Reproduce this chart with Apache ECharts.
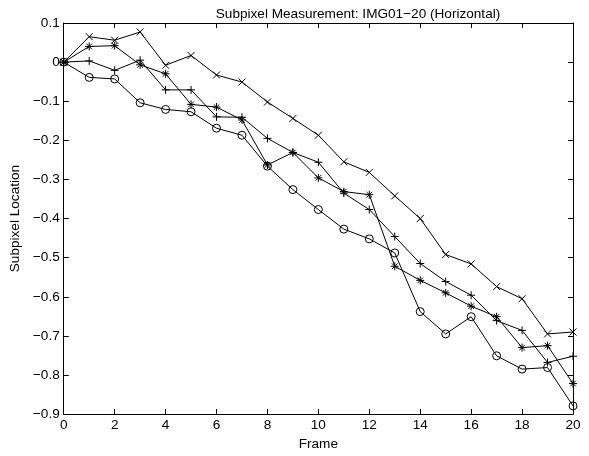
<!DOCTYPE html>
<html>
<head>
<meta charset="utf-8">
<script src="https://cdn.jsdelivr.net/npm/echarts@6/dist/echarts.min.js"></script>
<style>
html,body{margin:0;padding:0;background:#fff;}
#c{width:589px;height:456px;}
</style>
</head>
<body>
<div id="c"></div>
<script>
var frames = [0,1,2,3,4,5,6,7,8,9,10,11,12,13,14,15,16,17,18,19,20];
var seriesX = [0,0.065,0.056,0.077,-0.008,0.017,-0.033,-0.051,-0.102,-0.144,-0.187,-0.255,-0.282,-0.342,-0.400,-0.492,-0.516,-0.574,-0.605,-0.695,-0.690];
var seriesPlus = [0,0.003,-0.021,0.005,-0.071,-0.071,-0.140,-0.141,-0.195,-0.231,-0.256,-0.335,-0.377,-0.446,-0.515,-0.561,-0.596,-0.661,-0.686,-0.768,-0.752];
var seriesStar = [0,0.040,0.042,-0.007,-0.030,-0.108,-0.115,-0.148,-0.263,-0.231,-0.296,-0.331,-0.339,-0.522,-0.558,-0.590,-0.624,-0.651,-0.730,-0.725,-0.822];
var seriesO = [0,-0.039,-0.043,-0.104,-0.121,-0.127,-0.169,-0.187,-0.266,-0.326,-0.377,-0.427,-0.452,-0.488,-0.638,-0.695,-0.651,-0.751,-0.785,-0.781,-0.879];
var titleText = 'Subpixel Measurement: IMG01\u221220 (Horizontal)';
var xName = 'Frame';
var yName = 'Subpixel Location';

function pairs(arr){ return frames.map(function(f,i){ return [f, arr[i]]; }); }
function fmt(v){
  var r = Math.round(v*10)/10;
  if (Math.abs(r) < 1e-9) return '0';
  return String(r).replace('-', '\u2212');
}
var FONT = 'Liberation Sans';
var FS = 13.6;
var symX = 'path://M0 0L10 10M0 10L10 0';
var symPlus = 'path://M5 0L5 10M0 5L10 5';
var symStar = 'path://M5 0L5 10M0 5L10 5M1.5 1.5L8.5 8.5M1.5 8.5L8.5 1.5';

function mk(name, data, sym, size){
  return {
    name: name, type: 'line', data: pairs(data),
    symbol: sym, symbolSize: size, showAllSymbol: true,
    symbolKeepAspect: true,
    lineStyle: {color: '#000', width: 1},
    itemStyle: {color: 'none', borderColor: '#000', borderWidth: 1},
    emphasis: {disabled: true},
    animation: false, z: 3
  };
}

var chart = echarts.init(document.getElementById('c'), null, {renderer: 'canvas'});
var tickStyle = {show: true, inside: true, length: 5, lineStyle: {color: '#000', width: 1}};
chart.setOption({
  animation: false,
  backgroundColor: '#fff',
  title: {
    text: titleText, left: 353, top: 2, textAlign: 'center',
    textStyle: {fontFamily: FONT, fontSize: FS, fontWeight: 'normal', color: '#000'}
  },
  grid: {left: 59, top: 23, right: 16, bottom: 34, containLabel: false},
  xAxis: [{
    type: 'value', min: 0, max: 20, interval: 2,
    name: xName, nameLocation: 'middle', nameGap: 18,
    nameTextStyle: {fontFamily: FONT, fontSize: FS, color: '#000'},
    axisLine: {show: true, onZero: false, lineStyle: {color: '#000', width: 1}},
    axisTick: tickStyle,
    axisLabel: {fontFamily: FONT, fontSize: FS, color: '#000', margin: 4, formatter: fmt},
    splitLine: {show: false}
  },{
    type: 'value', min: 0, max: 20, interval: 2, position: 'top',
    axisLine: {show: true, onZero: false, lineStyle: {color: '#000', width: 1}},
    axisTick: tickStyle, axisLabel: {show: false}, splitLine: {show: false}
  }],
  yAxis: [{
    type: 'value', min: -0.9, max: 0.1, interval: 0.1,
    name: yName, nameLocation: 'middle', nameGap: 33, nameRotate: 90,
    nameTextStyle: {fontFamily: FONT, fontSize: FS, color: '#000'},
    axisLine: {show: true, onZero: false, lineStyle: {color: '#000', width: 1}},
    axisTick: tickStyle,
    axisLabel: {fontFamily: FONT, fontSize: FS, color: '#000', margin: 4, formatter: fmt},
    splitLine: {show: false}
  },{
    type: 'value', min: -0.9, max: 0.1, interval: 0.1, position: 'right',
    axisLine: {show: true, onZero: false, lineStyle: {color: '#000', width: 1}},
    axisTick: tickStyle, axisLabel: {show: false}, splitLine: {show: false}
  }],
  series: [
    mk('x', seriesX, symX, 7),
    mk('plus', seriesPlus, symPlus, 8),
    mk('star', seriesStar, symStar, 8),
    mk('o', seriesO, 'circle', 8)
  ]
});
</script>
</body>
</html>
